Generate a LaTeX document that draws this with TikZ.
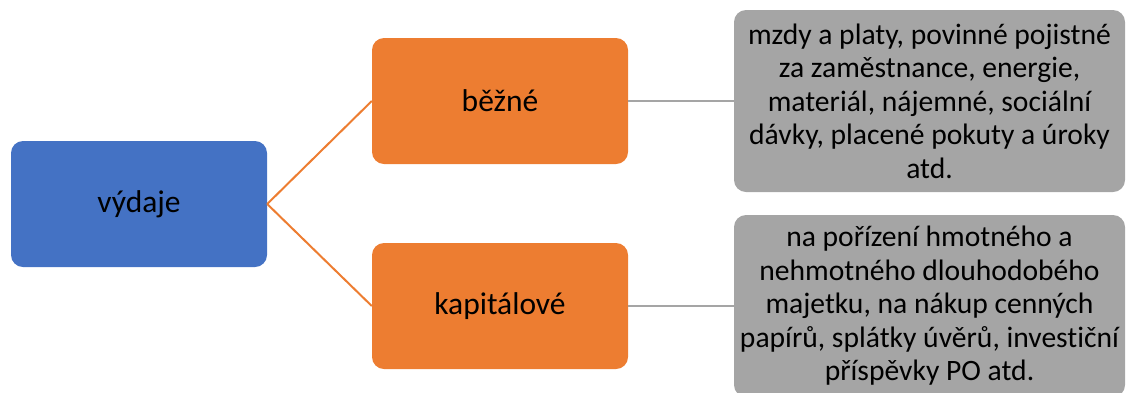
\documentclass[tikz,border=0pt]{standalone}
\usepackage{fontspec}
\setmainfont[Ligatures={NoCommon}]{Carlito}
\definecolor{modra}{HTML}{4472C4}
\definecolor{oranzova}{HTML}{ED7D31}
\definecolor{seda}{HTML}{A5A5A5}
\begin{document}
\begin{tikzpicture}[x=1pt, y=-1pt,
        polozka/.style={rounded corners=12pt, minimum width=256pt, minimum height=126pt,
            inner sep=0pt, font=\fontsize{31.5}{34}\selectfont},
        popis/.style={rounded corners=12pt, fill=seda, minimum width=391pt, minimum height=182pt,
            inner sep=0pt, align=center, font=\fontsize{29.6}{33.5}\selectfont},
        vetev/.style={oranzova, line width=2pt},
        spoj/.style={seda, line width=2.5pt}]
        \clip (0, 0) rectangle (1126, 392);
        \useasboundingbox (0, 0) rectangle (1126, 392);

        \node[polozka, fill=modra] (vydaje) at (139, 204) {výdaje};
        \node[polozka, fill=oranzova] (bezne) at (500, 101) {běžné};
        \node[polozka, fill=oranzova] (kapitalove) at (500, 306) {kapitálové};

        \node[popis] (bezneText) at (929.5, 101) {mzdy a platy, povinné pojistné\\za zaměstnance, energie,\\materiál, nájemné, sociální\\dávky, placené pokuty a úroky\\atd.};
        \node[popis] (kapitaloveText) at (929.5, 306) {na pořízení hmotného a\\nehmotného dlouhodobého\\majetku, na nákup cenných\\papírů, splátky úvěrů, investiční\\příspěvky PO atd.};

        \draw[vetev] (vydaje.east) -- (bezne.west);
        \draw[vetev] (vydaje.east) -- (kapitalove.west);
        \draw[spoj] (bezne.east) -- (bezneText.west);
        \draw[spoj] (kapitalove.east) -- (kapitaloveText.west);

    \end{tikzpicture}
\end{document}
